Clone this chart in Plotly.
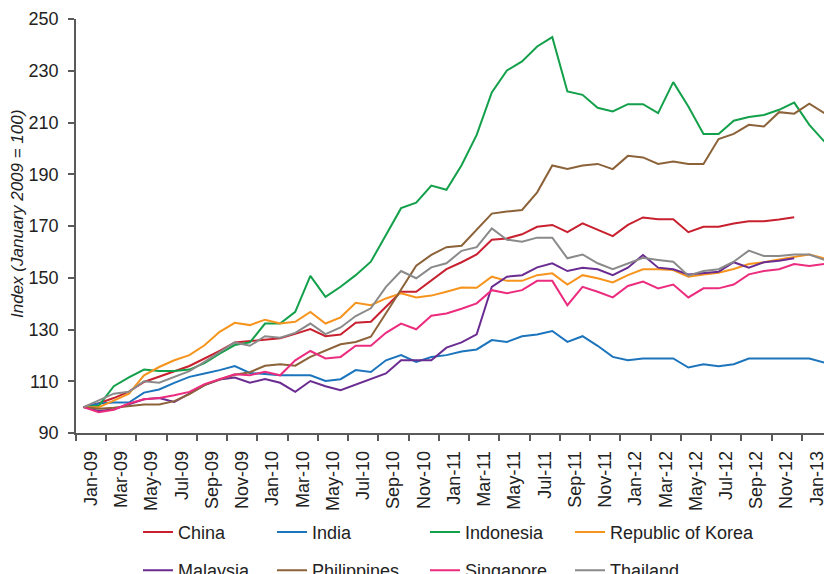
import pandas as pd
import plotly.graph_objects as go

months = list(pd.date_range("2009-01-01", "2013-02-01", freq="MS").strftime("%b-%y"))

china = [100, 101.5, 103.5, 106, 109.7, 111.8, 113.8, 115.9, 118.8, 121.7, 125, 125.6,
         126, 126.6, 128.3, 130.2, 127.4, 128.1, 132.6, 133, 138.8, 144.6, 144.6, 149.1,
         153.3, 156, 159, 164.7, 165.2, 166.8, 169.7, 170.4, 167.6, 171, 168.5, 166.1,
         170.4, 173.3, 172.6, 172.6, 167.6, 169.7, 169.7, 171, 171.8, 171.8, 172.5, 173.4,
         None, None]
india = [100, 101.4, 101.8, 101.8, 105.6, 106.8, 109.4, 111.7, 113, 114.3, 115.9, 113.2,
         112.8, 112.3, 112.3, 112.3, 110.1, 110.8, 114.3, 113.6, 118.1, 120.1, 117.5, 119.4,
         120.1, 121.5, 122.3, 125.9, 125.2, 127.4, 128.1, 129.4, 125.2, 127.4, 123.7, 119.4,
         118.1, 118.8, 118.8, 118.8, 115.3, 116.6, 115.8, 116.6, 118.8, 118.8, 118.8, 118.8,
         118.8, 117.2]
indonesia = [100, 100.5, 108.1, 111.5, 114.5, 114, 114, 114.5, 117, 120.7, 124, 125,
             132.3, 132.3, 136.8, 150.7, 142.6, 146.5, 151, 156.2, 166.5, 176.9, 179, 185.6,
             184, 193.5, 205.2, 221.6, 230.1, 233.6, 239.4, 243, 222, 220.7, 215.7, 214.3,
             217.1, 217.1, 213.6, 225.6, 216.2, 205.6, 205.6, 210.7, 212.1, 212.9, 214.9, 217.7,
             209.1, 202.6]
korea = [100, 100, 102.5, 105.2, 112.3, 115.5, 118.1, 120.1, 123.9, 129.1, 132.6, 131.7,
         133.8, 132.3, 133, 136.8, 132.3, 134.7, 140.3, 139.4, 142, 144, 142.4, 143.1,
         144.6, 146.2, 146.1, 150.4, 148.8, 148.8, 151, 151.7, 147.4, 151, 149.8, 148.2,
         151, 153.3, 153.3, 153, 150.4, 151.3, 151.9, 153.4, 155.3, 156, 157.1, 158.1,
         159, 157.5]
malaysia = [100, 98.5, 99.2, 101, 103, 103.5, 102, 105.2, 108.5, 110.7, 111.4, 109.4,
            110.9, 109.4, 105.9, 110.1, 108.1, 106.5, 108.7, 110.8, 113, 118.1, 118.1, 118.1,
            123, 125, 128.1, 146.5, 150.4, 151, 154, 155.6, 152.6, 153.9, 153.3, 151,
            153.9, 158.8, 153.9, 153.3, 151.3, 151.7, 152.3, 156, 153.9, 156, 156.6, 157.5,
            None, None]
philippines = [100, 99.4, 99.8, 100.3, 101, 101, 102.3, 105, 108.5, 110.7, 112.5, 113.5,
               116, 116.6, 116, 119.4, 121.7, 124.3, 125.2, 127.2, 136.3, 145.5, 154.7, 158.8,
               161.8, 162.4, 168.5, 174.8, 175.6, 176.2, 183, 193.4, 192, 193.4, 194, 192,
               197.1, 196.5, 194, 194.9, 194, 194, 203.6, 205.6, 209.1, 208.5, 214, 213.4,
               217.3, 213.6]
singapore = [100, 98, 99, 101.4, 103, 103.5, 104.6, 105.9, 108.9, 110.7, 112.7, 112.3,
             113.7, 112.3, 118.1, 121.7, 118.8, 119.4, 123.7, 123.7, 128.7, 132.3, 130.1, 135.3,
             136.2, 138, 140.1, 145.2, 144, 145.2, 148.8, 148.8, 139.4, 146.5, 144.6, 142.4,
             146.8, 148.5, 145.9, 147.4, 142.4, 145.9, 145.9, 147.4, 151.3, 152.6, 153.3, 155.3,
             154.5, 155.3]
thailand = [100, 102.7, 105.2, 105.9, 110, 109.4, 111.7, 113.9, 117.5, 121.4, 125, 123.7,
            127.4, 126.8, 128.7, 132.3, 128.2, 130.8, 135.2, 138.2, 146.5, 152.6, 149.8, 154,
            155.6, 160.4, 161.8, 169.1, 164.7, 163.9, 165.5, 165.5, 157.5, 159, 155.6, 153.3,
            155.6, 157.7, 156.9, 156.2, 150.8, 152.6, 153.3, 156.2, 160.5, 158.4, 158.4, 159,
            159, 156.9]

series = [
    ("China", china, "#c8202f", "legend"),
    ("India", india, "#1c75bc", "legend2"),
    ("Indonesia", indonesia, "#13a04a", "legend3"),
    ("Republic of Korea", korea, "#f7941d", "legend4"),
    ("Malaysia", malaysia, "#6a2c91", "legend"),
    ("Philippines", philippines, "#8c6239", "legend2"),
    ("Singapore", singapore, "#ec2c7e", "legend3"),
    ("Thailand", thailand, "#8a8a8a", "legend4"),
]

x = list(range(len(months)))

fig = go.Figure()
for name, vals, color, leg in series:
    fig.add_trace(go.Scatter(
        x=x, y=vals, mode="lines", name=name,
        line=dict(color=color, width=2),
        legend=leg, legendgroup=name,
    ))

font = dict(family="Liberation Sans, Arial, sans-serif", size=18, color="#222222")
axcol = "#5a5a5a"

# the page puts the figure 8px in from the top-left, so size/margins allow for it
plot_l, plot_w, plot_t, plot_h = 76, 756, 19, 414
col_px = [138, 272, 425, 570]
legends = {}
for k, px in zip(["legend", "legend2", "legend3", "legend4"], col_px):
    legends[k] = dict(
        x=(px - plot_l) / plot_w, xanchor="left",
        y=-0.195, yanchor="top",
        orientation="v", tracegroupgap=12,
        font=font, bgcolor="rgba(0,0,0,0)", itemwidth=30,
    )

fig.update_layout(
    width=824, height=566,
    margin=dict(l=68, r=0, t=11, b=141, autoexpand=False),
    paper_bgcolor="white", plot_bgcolor="white",
    font=font,
    showlegend=True,
    **legends,
)

fig.add_annotation(
    text="<i>Index (January 2009 = 100)</i>",
    xref="paper", yref="paper",
    x=(17 - plot_l) / plot_w, y=(plot_t + plot_h - 214) / plot_h,
    xanchor="center", yanchor="middle",
    textangle=-90, showarrow=False,
    font=dict(family="Liberation Sans, Arial, sans-serif", size=17, color="#222222"),
)

fig.update_xaxes(
    range=[-0.5, len(months) - 0.5],
    tickmode="array",
    tickvals=[i + 0.5 for i in x[::2]],
    ticktext=months[::2],
    tickangle=-90,
    ticks="outside", ticklen=9, tickcolor="rgba(0,0,0,0)",
    minor=dict(tickmode="array", tickvals=[i - 0.5 for i in x[::2]],
               ticks="outside", ticklen=6, tickcolor=axcol, tickwidth=1.5, showgrid=False),
    showline=True, linecolor=axcol, linewidth=1.5,
    showgrid=False, zeroline=False,
    tickfont=font, automargin=False,
)
fig.update_yaxes(
    range=[90, 250],
    tickvals=list(range(90, 251, 20)),
    ticks="outside", ticklen=6, tickcolor=axcol, tickwidth=1.5,
    ticklabelstandoff=6,
    showline=True, linecolor=axcol, linewidth=1.5,
    showgrid=False, zeroline=False,
    tickfont=font, automargin=False,
)

fig.write_html("out.html")
